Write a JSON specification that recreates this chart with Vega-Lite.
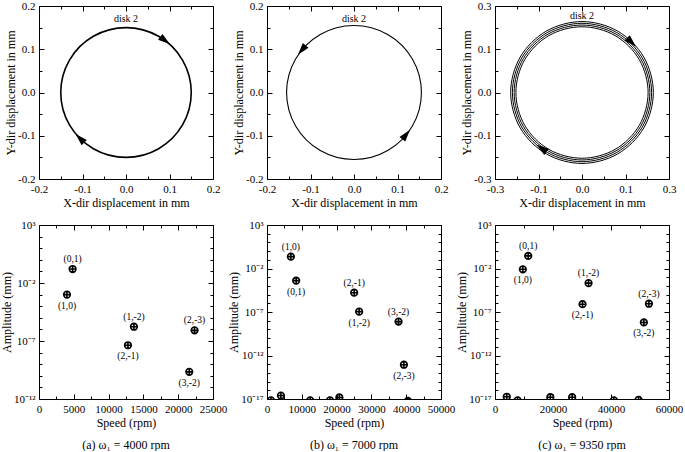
{
 "$schema": "https://vega.github.io/schema/vega-lite/v6.json",
 "background": "white",
 "padding": {"left": 0, "top": 0, "right": 0, "bottom": 0},
 "columns": 3,
 "spacing": {"row": 46, "column": 54},
 "bounds": "flush",
 "datasets": {
  "orbitA": [
   {"t":0,"x":0.15,"y":0},{"t":1,"x":0.1299,"y":0.075},{"t":2,"x":0.075,"y":0.1299},{"t":3,"x":0,"y":0.15},
   {"t":4,"x":-0.075,"y":0.1299},{"t":5,"x":-0.1299,"y":0.075},{"t":6,"x":-0.15,"y":0},{"t":7,"x":-0.1299,"y":-0.075},
   {"t":8,"x":-0.075,"y":-0.1299},{"t":9,"x":0,"y":-0.15},{"t":10,"x":0.075,"y":-0.1299},{"t":11,"x":0.1299,"y":-0.075}
  ],
  "orbitB": [
   {"t":0,"x":0.155,"y":0},{"t":1,"x":0.1342,"y":0.0775},{"t":2,"x":0.0775,"y":0.1342},{"t":3,"x":0,"y":0.155},
   {"t":4,"x":-0.0775,"y":0.1342},{"t":5,"x":-0.1342,"y":0.0775},{"t":6,"x":-0.155,"y":0},{"t":7,"x":-0.1342,"y":-0.0775},
   {"t":8,"x":-0.0775,"y":-0.1342},{"t":9,"x":0,"y":-0.155},{"t":10,"x":0.0775,"y":-0.1342},{"t":11,"x":0.1342,"y":-0.0775}
  ],
  "orbitC": [
   {"ring":1,"t":0,"x":0.228,"y":0},{"ring":1,"t":1,"x":0.1975,"y":0.114},{"ring":1,"t":2,"x":0.114,"y":0.1975},{"ring":1,"t":3,"x":0,"y":0.228},
   {"ring":1,"t":4,"x":-0.114,"y":0.1975},{"ring":1,"t":5,"x":-0.1975,"y":0.114},{"ring":1,"t":6,"x":-0.228,"y":0},{"ring":1,"t":7,"x":-0.1975,"y":-0.114},
   {"ring":1,"t":8,"x":-0.114,"y":-0.1975},{"ring":1,"t":9,"x":0,"y":-0.228},{"ring":1,"t":10,"x":0.114,"y":-0.1975},{"ring":1,"t":11,"x":0.1975,"y":-0.114},
   {"ring":2,"t":0,"x":0.234,"y":0},{"ring":2,"t":1,"x":0.2026,"y":0.117},{"ring":2,"t":2,"x":0.117,"y":0.2026},{"ring":2,"t":3,"x":0,"y":0.234},
   {"ring":2,"t":4,"x":-0.117,"y":0.2026},{"ring":2,"t":5,"x":-0.2026,"y":0.117},{"ring":2,"t":6,"x":-0.234,"y":0},{"ring":2,"t":7,"x":-0.2026,"y":-0.117},
   {"ring":2,"t":8,"x":-0.117,"y":-0.2026},{"ring":2,"t":9,"x":0,"y":-0.234},{"ring":2,"t":10,"x":0.117,"y":-0.2026},{"ring":2,"t":11,"x":0.2026,"y":-0.117},
   {"ring":3,"t":0,"x":0.24,"y":0},{"ring":3,"t":1,"x":0.2078,"y":0.12},{"ring":3,"t":2,"x":0.12,"y":0.2078},{"ring":3,"t":3,"x":0,"y":0.24},
   {"ring":3,"t":4,"x":-0.12,"y":0.2078},{"ring":3,"t":5,"x":-0.2078,"y":0.12},{"ring":3,"t":6,"x":-0.24,"y":0},{"ring":3,"t":7,"x":-0.2078,"y":-0.12},
   {"ring":3,"t":8,"x":-0.12,"y":-0.2078},{"ring":3,"t":9,"x":0,"y":-0.24},{"ring":3,"t":10,"x":0.12,"y":-0.2078},{"ring":3,"t":11,"x":0.2078,"y":-0.12},
   {"ring":4,"t":0,"x":0.246,"y":0},{"ring":4,"t":1,"x":0.213,"y":0.123},{"ring":4,"t":2,"x":0.123,"y":0.213},{"ring":4,"t":3,"x":0,"y":0.246},
   {"ring":4,"t":4,"x":-0.123,"y":0.213},{"ring":4,"t":5,"x":-0.213,"y":0.123},{"ring":4,"t":6,"x":-0.246,"y":0},{"ring":4,"t":7,"x":-0.213,"y":-0.123},
   {"ring":4,"t":8,"x":-0.123,"y":-0.213},{"ring":4,"t":9,"x":0,"y":-0.246},{"ring":4,"t":10,"x":0.123,"y":-0.213},{"ring":4,"t":11,"x":0.213,"y":-0.123}
  ],
  "arrowA": [{"x":0.09,"y":0.12,"dir":127},{"x":-0.106,"y":-0.106,"dir":315}],
  "arrowB": [{"x":-0.12,"y":0.098,"dir":219},{"x":0.12,"y":-0.097,"dir":39}],
  "arrowC": [{"x":0.171,"y":0.174,"dir":135},{"x":-0.14,"y":-0.193,"dir":306}],
  "specA": [
   {"speed":4020,"amp":1e-3,"label":"(1,0)"},
   {"speed":4830,"amp":0.16,"label":"(0,1)"},
   {"speed":12780,"amp":4.3e-8,"label":"(2,-1)"},
   {"speed":13640,"amp":1.7e-6,"label":"(1,-2)"},
   {"speed":21590,"amp":2.2e-10,"label":"(3,-2)"},
   {"speed":22350,"amp":8.3e-7,"label":"(2,-3)"}
  ],
  "specB": [
   {"speed":6860,"amp":0.23,"label":"(1,0)"},
   {"speed":8380,"amp":4e-4,"label":"(0,1)"},
   {"speed":25050,"amp":1.66e-5,"label":"(2,-1)"},
   {"speed":26480,"amp":1.1e-7,"label":"(1,-2)"},
   {"speed":37800,"amp":7.9e-9,"label":"(3,-2)"},
   {"speed":39340,"amp":8.7e-14,"label":"(2,-3)"},
   {"speed":1140,"amp":7e-18,"label":""},
   {"speed":4000,"amp":2.5e-17,"label":""},
   {"speed":12400,"amp":7e-18,"label":""},
   {"speed":18100,"amp":7e-18,"label":""},
   {"speed":20800,"amp":1.5e-17,"label":""},
   {"speed":40500,"amp":6e-18,"label":""}
  ],
  "specC": [
   {"speed":11450,"amp":0.28,"label":"(0,1)"},
   {"speed":9600,"amp":8.1e-3,"label":"(1,0)"},
   {"speed":32260,"amp":2.1e-4,"label":"(1,-2)"},
   {"speed":30180,"amp":7.9e-7,"label":"(2,-1)"},
   {"speed":53070,"amp":8.9e-7,"label":"(2,-3)"},
   {"speed":51330,"amp":6.3e-9,"label":"(3,-2)"},
   {"speed":4050,"amp":1.8e-17,"label":""},
   {"speed":7800,"amp":7e-18,"label":""},
   {"speed":19080,"amp":1.6e-17,"label":""},
   {"speed":26600,"amp":1.6e-17,"label":""},
   {"speed":41000,"amp":7e-18,"label":""},
   {"speed":49500,"amp":8e-18,"label":""}
  ]
 },
 "concat": [
  {
   "width": 174, "height": 173,
   "layer": [
    {"data": {"name": "orbitA"}, "mark": {"type": "line", "interpolate": "cardinal-closed", "color": "black", "strokeWidth": 1.6},
     "encoding": {
      "x": {"field": "x", "type": "quantitative", "scale": {"domain": [-0.2, 0.2], "nice": false},
        "axis": {"orient": "bottom", "title": "X-dir displacement in mm", "values": [-0.2,-0.15,-0.1,-0.05,0,0.05,0.1,0.15,0.2],
          "labelExpr": "abs(datum.value*10-round(datum.value*10))>0.001 ? '' : datum.value<0 ? '-'+format(-datum.value,'.1f') : format(datum.value,'.1f')",
          "tickSize": {"condition": {"test": "abs(datum.value*10-round(datum.value*10))<0.001", "value": -5}, "value": -3}}},
      "y": {"field": "y", "type": "quantitative", "scale": {"domain": [-0.2, 0.2], "nice": false},
        "axis": {"orient": "left", "title": "Y-dir displacement in mm", "values": [-0.2,-0.15,-0.1,-0.05,0,0.05,0.1,0.15,0.2],
          "labelExpr": "abs(datum.value*10-round(datum.value*10))>0.001 ? '' : datum.value<0 ? '-'+format(-datum.value,'.1f') : format(datum.value,'.1f')",
          "tickSize": {"condition": {"test": "abs(datum.value*10-round(datum.value*10))<0.001", "value": -5}, "value": -3}}},
      "order": {"field": "t", "type": "quantitative"}
     }},
    {"data": {"name": "arrowA"}, "mark": {"type": "point", "shape": "M0,-1L0.6,1L-0.6,1Z", "filled": true, "color": "black", "opacity": 1, "size": 150},
     "encoding": {
      "x": {"field": "x", "type": "quantitative", "axis": {"orient": "top", "title": null, "labels": false, "values": [-0.2,-0.15,-0.1,-0.05,0,0.05,0.1,0.15,0.2],
          "tickSize": {"condition": {"test": "abs(datum.value*10-round(datum.value*10))<0.001", "value": -5}, "value": -3}}},
      "y": {"field": "y", "type": "quantitative", "axis": {"orient": "right", "title": null, "labels": false, "values": [-0.2,-0.15,-0.1,-0.05,0,0.05,0.1,0.15,0.2],
          "tickSize": {"condition": {"test": "abs(datum.value*10-round(datum.value*10))<0.001", "value": -5}, "value": -3}}},
      "angle": {"field": "dir", "type": "quantitative", "scale": null}
     }},
    {"data": {"values": [{"x": 0, "y": 0.17, "label": "disk 2"}]}, "mark": {"type": "text", "fontSize": 10, "color": "black"},
     "encoding": {"x": {"field": "x", "type": "quantitative", "axis": null}, "y": {"field": "y", "type": "quantitative", "axis": null}, "text": {"field": "label"}}}
   ],
   "resolve": {"axis": {"x": "independent", "y": "independent"}}
  },
  {
   "width": 174, "height": 173,
   "layer": [
    {"data": {"name": "orbitB"}, "mark": {"type": "line", "interpolate": "cardinal-closed", "color": "black", "strokeWidth": 1.1},
     "encoding": {
      "x": {"field": "x", "type": "quantitative", "scale": {"domain": [-0.2, 0.2], "nice": false},
        "axis": {"orient": "bottom", "title": "X-dir displacement in mm", "values": [-0.2,-0.15,-0.1,-0.05,0,0.05,0.1,0.15,0.2],
          "labelExpr": "abs(datum.value*10-round(datum.value*10))>0.001 ? '' : datum.value<0 ? '-'+format(-datum.value,'.1f') : format(datum.value,'.1f')",
          "tickSize": {"condition": {"test": "abs(datum.value*10-round(datum.value*10))<0.001", "value": -5}, "value": -3}}},
      "y": {"field": "y", "type": "quantitative", "scale": {"domain": [-0.2, 0.2], "nice": false},
        "axis": {"orient": "left", "title": "Y-dir displacement in mm", "values": [-0.2,-0.15,-0.1,-0.05,0,0.05,0.1,0.15,0.2],
          "labelExpr": "abs(datum.value*10-round(datum.value*10))>0.001 ? '' : datum.value<0 ? '-'+format(-datum.value,'.1f') : format(datum.value,'.1f')",
          "tickSize": {"condition": {"test": "abs(datum.value*10-round(datum.value*10))<0.001", "value": -5}, "value": -3}}},
      "order": {"field": "t", "type": "quantitative"}
     }},
    {"data": {"name": "arrowB"}, "mark": {"type": "point", "shape": "M0,-1L0.6,1L-0.6,1Z", "filled": true, "color": "black", "opacity": 1, "size": 150},
     "encoding": {
      "x": {"field": "x", "type": "quantitative", "axis": {"orient": "top", "title": null, "labels": false, "values": [-0.2,-0.15,-0.1,-0.05,0,0.05,0.1,0.15,0.2],
          "tickSize": {"condition": {"test": "abs(datum.value*10-round(datum.value*10))<0.001", "value": -5}, "value": -3}}},
      "y": {"field": "y", "type": "quantitative", "axis": {"orient": "right", "title": null, "labels": false, "values": [-0.2,-0.15,-0.1,-0.05,0,0.05,0.1,0.15,0.2],
          "tickSize": {"condition": {"test": "abs(datum.value*10-round(datum.value*10))<0.001", "value": -5}, "value": -3}}},
      "angle": {"field": "dir", "type": "quantitative", "scale": null}
     }},
    {"data": {"values": [{"x": 0, "y": 0.17, "label": "disk 2"}]}, "mark": {"type": "text", "fontSize": 10, "color": "black"},
     "encoding": {"x": {"field": "x", "type": "quantitative", "axis": null}, "y": {"field": "y", "type": "quantitative", "axis": null}, "text": {"field": "label"}}}
   ],
   "resolve": {"axis": {"x": "independent", "y": "independent"}}
  },
  {
   "width": 174, "height": 173,
   "layer": [
    {"data": {"name": "orbitC"}, "mark": {"type": "line", "interpolate": "cardinal-closed", "color": "black", "strokeWidth": 1},
     "encoding": {
      "x": {"field": "x", "type": "quantitative", "scale": {"domain": [-0.3, 0.3], "nice": false},
        "axis": {"orient": "bottom", "title": "X-dir displacement in mm", "values": [-0.3,-0.225,-0.15,-0.075,0,0.075,0.15,0.225,0.3],
          "labelExpr": "abs(datum.value/0.15-round(datum.value/0.15))>0.001 ? '' : datum.value>0.2 ? '0.3' : datum.value>0.1 ? '0.1' : datum.value>-0.1 ? '0.0' : datum.value>-0.2 ? '-0.1' : '-0.3'",
          "tickSize": {"condition": {"test": "abs(datum.value/0.15-round(datum.value/0.15))<0.001", "value": -5}, "value": -3}}},
      "y": {"field": "y", "type": "quantitative", "scale": {"domain": [-0.3, 0.3], "nice": false},
        "axis": {"orient": "left", "title": "Y-dir displacement in mm", "values": [-0.3,-0.225,-0.15,-0.075,0,0.075,0.15,0.225,0.3],
          "labelExpr": "abs(datum.value/0.15-round(datum.value/0.15))>0.001 ? '' : datum.value>0.2 ? '0.3' : datum.value>0.1 ? '0.1' : datum.value>-0.1 ? '0.0' : datum.value>-0.2 ? '-0.1' : '-0.3'",
          "tickSize": {"condition": {"test": "abs(datum.value/0.15-round(datum.value/0.15))<0.001", "value": -5}, "value": -3}}},
      "detail": {"field": "ring", "type": "nominal"},
      "order": {"field": "t", "type": "quantitative"}
     }},
    {"data": {"name": "arrowC"}, "mark": {"type": "point", "shape": "M0,-1L0.6,1L-0.6,1Z", "filled": true, "color": "black", "opacity": 1, "size": 160},
     "encoding": {
      "x": {"field": "x", "type": "quantitative", "axis": {"orient": "top", "title": null, "labels": false, "values": [-0.3,-0.225,-0.15,-0.075,0,0.075,0.15,0.225,0.3],
          "tickSize": {"condition": {"test": "abs(datum.value/0.15-round(datum.value/0.15))<0.001", "value": -5}, "value": -3}}},
      "y": {"field": "y", "type": "quantitative", "axis": {"orient": "right", "title": null, "labels": false, "values": [-0.3,-0.225,-0.15,-0.075,0,0.075,0.15,0.225,0.3],
          "tickSize": {"condition": {"test": "abs(datum.value/0.15-round(datum.value/0.15))<0.001", "value": -5}, "value": -3}}},
      "angle": {"field": "dir", "type": "quantitative", "scale": null}
     }},
    {"data": {"values": [{"x": 0, "y": 0.267, "label": "disk 2"}]}, "mark": {"type": "text", "fontSize": 10, "color": "black"},
     "encoding": {"x": {"field": "x", "type": "quantitative", "axis": null}, "y": {"field": "y", "type": "quantitative", "axis": null}, "text": {"field": "label"}}}
   ],
   "resolve": {"axis": {"x": "independent", "y": "independent"}}
  },
  {
   "width": 174, "height": 174,
   "title": {"text": "(a) ω₁ = 4000 rpm", "orient": "bottom", "fontSize": 12, "fontWeight": "normal", "offset": 12},
   "data": {"name": "specA"},
   "layer": [
    {"mark": {"type": "point", "shape": "M-1,0A1,1 0 1,1 1,0A1,1 0 1,1 -1,0Z M-1,0L1,0 M0,-1L0,1", "filled": false, "color": "black", "opacity": 1, "strokeWidth": 1.6, "size": 44, "clip": true},
     "encoding": {
      "x": {"field": "speed", "type": "quantitative", "scale": {"domain": [0, 25000], "nice": false},
        "axis": {"orient": "bottom", "title": "Speed (rpm)", "values": [0,2500,5000,7500,10000,12500,15000,17500,20000,22500,25000],
          "labelExpr": "datum.value % 5000 == 0 ? format(datum.value,'d') : ''",
          "tickSize": {"condition": {"test": "datum.value % 5000 == 0", "value": -5}, "value": -3}}},
      "y": {"field": "amp", "type": "quantitative", "scale": {"type": "log", "domain": [1e-12, 1000], "nice": false},
        "axis": {"orient": "left", "title": "Amplitude (mm)", "values": [1000,100,10,1,0.1,0.01,1e-3,1e-4,1e-5,1e-6,1e-7,1e-8,1e-9,1e-10,1e-11,1e-12],
          "labelExpr": "(round(log(datum.value)/LN10)+2) % 5 != 0 ? '' : round(log(datum.value)/LN10) == 3 ? '10³' : round(log(datum.value)/LN10) == -2 ? '10⁻²' : round(log(datum.value)/LN10) == -7 ? '10⁻⁷' : round(log(datum.value)/LN10) == -12 ? '10⁻¹²' : '10⁻¹⁷'",
          "tickSize": {"condition": {"test": "(round(log(datum.value)/LN10)+2) % 5 == 0", "value": -5}, "value": -3}}}
     }},
    {"transform": [{"filter": {"field": "label", "oneOf": ["(0,1)", "(1,-2)", "(2,-3)"]}}],
     "mark": {"type": "text", "fontSize": 9.5, "color": "black", "dy": -10},
     "encoding": {
      "x": {"field": "speed", "type": "quantitative", "axis": {"orient": "top", "title": null, "labels": false, "values": [0,2500,5000,7500,10000,12500,15000,17500,20000,22500,25000],
          "tickSize": {"condition": {"test": "datum.value % 5000 == 0", "value": -5}, "value": -3}}},
      "y": {"field": "amp", "type": "quantitative", "axis": {"orient": "right", "title": null, "labels": false, "values": [1000,100,10,1,0.1,0.01,1e-3,1e-4,1e-5,1e-6,1e-7,1e-8,1e-9,1e-10,1e-11,1e-12],
          "tickSize": {"condition": {"test": "(round(log(datum.value)/LN10)+2) % 5 == 0", "value": -5}, "value": -3}}},
      "text": {"field": "label"}
     }},
    {"transform": [{"filter": {"field": "label", "oneOf": ["(1,0)", "(2,-1)", "(3,-2)"]}}],
     "mark": {"type": "text", "fontSize": 9.5, "color": "black", "dy": 11},
     "encoding": {
      "x": {"field": "speed", "type": "quantitative", "axis": null},
      "y": {"field": "amp", "type": "quantitative", "axis": null},
      "text": {"field": "label"}
     }}
   ],
   "resolve": {"axis": {"x": "independent", "y": "independent"}}
  },
  {
   "width": 174, "height": 174,
   "title": {"text": "(b) ω₁ = 7000 rpm", "orient": "bottom", "fontSize": 12, "fontWeight": "normal", "offset": 12},
   "data": {"name": "specB"},
   "layer": [
    {"mark": {"type": "point", "shape": "M-1,0A1,1 0 1,1 1,0A1,1 0 1,1 -1,0Z M-1,0L1,0 M0,-1L0,1", "filled": false, "color": "black", "opacity": 1, "strokeWidth": 1.6, "size": 44, "clip": true},
     "encoding": {
      "x": {"field": "speed", "type": "quantitative", "scale": {"domain": [0, 50000], "nice": false},
        "axis": {"orient": "bottom", "title": "Speed (rpm)", "values": [0,5000,10000,15000,20000,25000,30000,35000,40000,45000,50000],
          "labelExpr": "datum.value % 10000 == 0 ? format(datum.value,'d') : ''",
          "tickSize": {"condition": {"test": "datum.value % 10000 == 0", "value": -5}, "value": -3}}},
      "y": {"field": "amp", "type": "quantitative", "scale": {"type": "log", "domain": [1e-17, 1000], "nice": false},
        "axis": {"orient": "left", "title": "Amplitude (mm)", "values": [1000,100,10,1,0.1,0.01,1e-3,1e-4,1e-5,1e-6,1e-7,1e-8,1e-9,1e-10,1e-11,1e-12,1e-13,1e-14,1e-15,1e-16,1e-17],
          "labelExpr": "(round(log(datum.value)/LN10)+2) % 5 != 0 ? '' : round(log(datum.value)/LN10) == 3 ? '10³' : round(log(datum.value)/LN10) == -2 ? '10⁻²' : round(log(datum.value)/LN10) == -7 ? '10⁻⁷' : round(log(datum.value)/LN10) == -12 ? '10⁻¹²' : '10⁻¹⁷'",
          "tickSize": {"condition": {"test": "(round(log(datum.value)/LN10)+2) % 5 == 0", "value": -5}, "value": -3}}}
     }},
    {"transform": [{"filter": {"field": "label", "oneOf": ["(1,0)", "(2,-1)", "(3,-2)"]}}],
     "mark": {"type": "text", "fontSize": 9.5, "color": "black", "dy": -10},
     "encoding": {
      "x": {"field": "speed", "type": "quantitative", "axis": {"orient": "top", "title": null, "labels": false, "values": [0,5000,10000,15000,20000,25000,30000,35000,40000,45000,50000],
          "tickSize": {"condition": {"test": "datum.value % 10000 == 0", "value": -5}, "value": -3}}},
      "y": {"field": "amp", "type": "quantitative", "axis": {"orient": "right", "title": null, "labels": false, "values": [1000,100,10,1,0.1,0.01,1e-3,1e-4,1e-5,1e-6,1e-7,1e-8,1e-9,1e-10,1e-11,1e-12,1e-13,1e-14,1e-15,1e-16,1e-17],
          "tickSize": {"condition": {"test": "(round(log(datum.value)/LN10)+2) % 5 == 0", "value": -5}, "value": -3}}},
      "text": {"field": "label"}
     }},
    {"transform": [{"filter": {"field": "label", "oneOf": ["(0,1)", "(1,-2)", "(2,-3)"]}}],
     "mark": {"type": "text", "fontSize": 9.5, "color": "black", "dy": 11},
     "encoding": {
      "x": {"field": "speed", "type": "quantitative", "axis": null},
      "y": {"field": "amp", "type": "quantitative", "axis": null},
      "text": {"field": "label"}
     }}
   ],
   "resolve": {"axis": {"x": "independent", "y": "independent"}}
  },
  {
   "width": 174, "height": 174,
   "title": {"text": "(c) ω₁ = 9350 rpm", "orient": "bottom", "fontSize": 12, "fontWeight": "normal", "offset": 12},
   "data": {"name": "specC"},
   "layer": [
    {"mark": {"type": "point", "shape": "M-1,0A1,1 0 1,1 1,0A1,1 0 1,1 -1,0Z M-1,0L1,0 M0,-1L0,1", "filled": false, "color": "black", "opacity": 1, "strokeWidth": 1.6, "size": 44, "clip": true},
     "encoding": {
      "x": {"field": "speed", "type": "quantitative", "scale": {"domain": [0, 60000], "nice": false},
        "axis": {"orient": "bottom", "title": "Speed (rpm)", "values": [0,10000,20000,30000,40000,50000,60000],
          "labelExpr": "datum.value % 20000 == 0 ? format(datum.value,'d') : ''",
          "tickSize": {"condition": {"test": "datum.value % 20000 == 0", "value": -5}, "value": -3}}},
      "y": {"field": "amp", "type": "quantitative", "scale": {"type": "log", "domain": [1e-17, 1000], "nice": false},
        "axis": {"orient": "left", "title": "Amplitude (mm)", "values": [1000,100,10,1,0.1,0.01,1e-3,1e-4,1e-5,1e-6,1e-7,1e-8,1e-9,1e-10,1e-11,1e-12,1e-13,1e-14,1e-15,1e-16,1e-17],
          "labelExpr": "(round(log(datum.value)/LN10)+2) % 5 != 0 ? '' : round(log(datum.value)/LN10) == 3 ? '10³' : round(log(datum.value)/LN10) == -2 ? '10⁻²' : round(log(datum.value)/LN10) == -7 ? '10⁻⁷' : round(log(datum.value)/LN10) == -12 ? '10⁻¹²' : '10⁻¹⁷'",
          "tickSize": {"condition": {"test": "(round(log(datum.value)/LN10)+2) % 5 == 0", "value": -5}, "value": -3}}}
     }},
    {"transform": [{"filter": {"field": "label", "oneOf": ["(0,1)", "(1,-2)", "(2,-3)"]}}],
     "mark": {"type": "text", "fontSize": 9.5, "color": "black", "dy": -10},
     "encoding": {
      "x": {"field": "speed", "type": "quantitative", "axis": {"orient": "top", "title": null, "labels": false, "values": [0,10000,20000,30000,40000,50000,60000],
          "tickSize": {"condition": {"test": "datum.value % 20000 == 0", "value": -5}, "value": -3}}},
      "y": {"field": "amp", "type": "quantitative", "axis": {"orient": "right", "title": null, "labels": false, "values": [1000,100,10,1,0.1,0.01,1e-3,1e-4,1e-5,1e-6,1e-7,1e-8,1e-9,1e-10,1e-11,1e-12,1e-13,1e-14,1e-15,1e-16,1e-17],
          "tickSize": {"condition": {"test": "(round(log(datum.value)/LN10)+2) % 5 == 0", "value": -5}, "value": -3}}},
      "text": {"field": "label"}
     }},
    {"transform": [{"filter": {"field": "label", "oneOf": ["(1,0)", "(2,-1)", "(3,-2)"]}}],
     "mark": {"type": "text", "fontSize": 9.5, "color": "black", "dy": 11},
     "encoding": {
      "x": {"field": "speed", "type": "quantitative", "axis": null},
      "y": {"field": "amp", "type": "quantitative", "axis": null},
      "text": {"field": "label"}
     }}
   ],
   "resolve": {"axis": {"x": "independent", "y": "independent"}}
  }
 ],
 "config": {
  "font": "Liberation Serif",
  "view": {"stroke": null},
  "title": {"font": "Liberation Serif", "color": "black"},
  "text": {"font": "Liberation Serif"},
  "axis": {"grid": false, "domainColor": "black", "tickColor": "black", "labelColor": "black", "titleColor": "black",
   "labelFont": "Liberation Serif", "titleFont": "Liberation Serif", "labelFontSize": 11, "titleFontSize": 12, "titleFontWeight": "normal",
   "labelFlush": false, "labelOverlap": false, "domainWidth": 1, "tickWidth": 1},
  "axisX": {"labelPadding": 9, "titlePadding": 1},
  "axisY": {"labelPadding": 9, "titlePadding": 0}
 }
}
